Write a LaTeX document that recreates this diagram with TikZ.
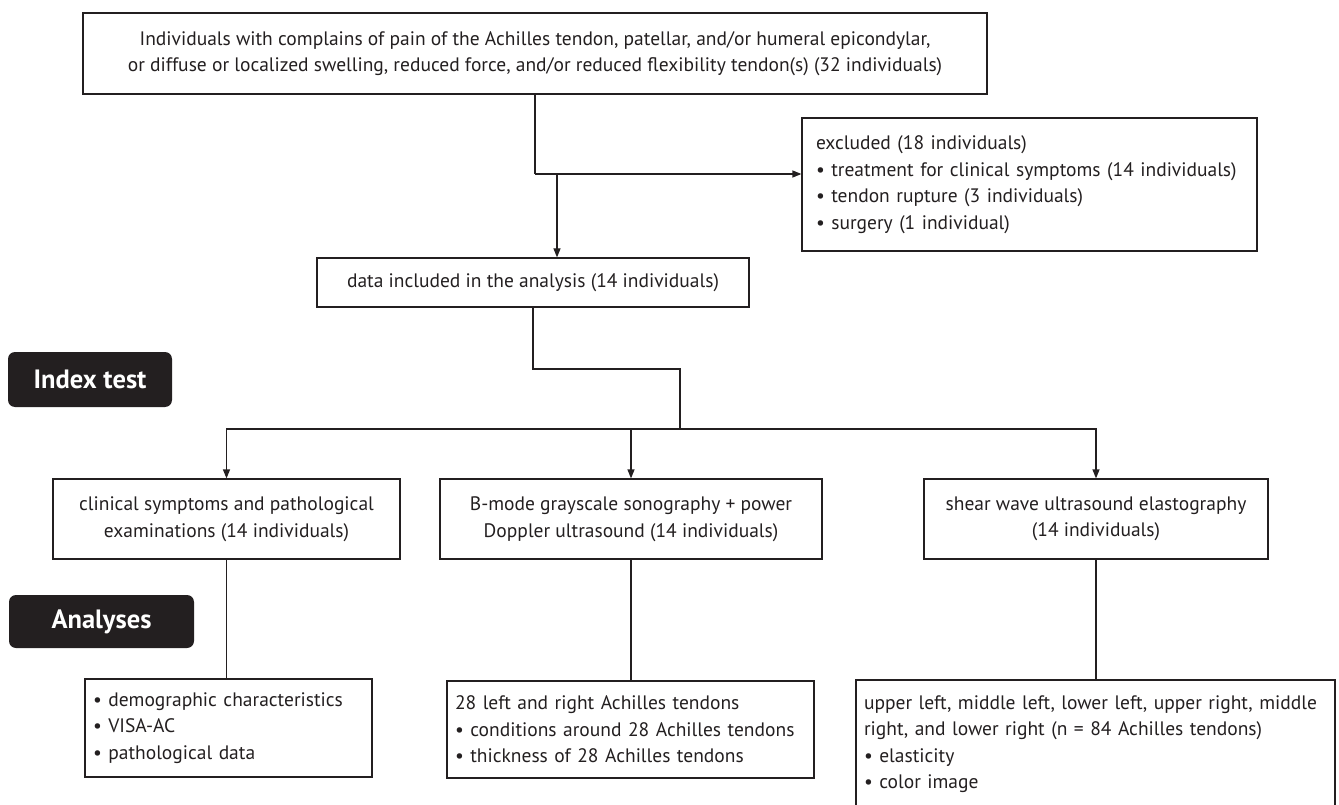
\documentclass[tikz,border=0pt]{standalone}
\usepackage{fontspec}
\setmainfont{PT Sans}
\usepackage{tikz}
\usetikzlibrary{arrows.meta,positioning,calc}
\definecolor{ink}{HTML}{231F20}

\begin{document}
\begin{tikzpicture}[x=1pt,y=-1pt,
    box/.style={draw=ink, line width=1.2pt, text=ink, inner sep=0pt, align=center,
        font=\fontsize{19.5}{26.5}\selectfont},
    listbox/.style={box, align=left, inner xsep=8pt},
    tag/.style={fill=ink, rounded corners=7pt, text=white, inner sep=0pt,
        font=\fontsize{26.5}{30}\selectfont\bfseries},
    link/.style={draw=ink, line width=1.2pt},
    arr/.style={link, -{Triangle[length=9pt,width=7pt]}}]
    \useasboundingbox (0,0) rectangle (1339,805);
    \clip (0,0) rectangle (1339,805);

    % Enrolment
    \node[box, minimum width=904pt, minimum height=81pt] (top) at (535,53.5)
        {Individuals with complains of pain of the Achilles tendon, patellar, and/or humeral epicondylar,\\
         or diffuse or localized swelling, reduced force, and/or reduced flexibility tendon(s) (32 individuals)};
    \node[listbox, inner xsep=14pt, text width=427pt, minimum height=133pt] (excl) at (1029.5,184.5)
        {excluded (18 individuals)\\
         • treatment for clinical symptoms (14 individuals)\\
         • tendon rupture (3 individuals)\\
         • surgery (1 individual)};
    \node[box, minimum width=432pt, minimum height=49pt] (data) at (533,282.5)
        {data included in the analysis (14 individuals)};

    % Index test
    \node[tag, minimum width=164pt, minimum height=55pt] (index) at (90,379.5) {Index test};
    \node[box, minimum width=347pt, minimum height=80pt] (clin) at (226.5,519)
        {clinical symptoms and pathological\\ examinations (14 individuals)};
    \node[box, minimum width=382pt, minimum height=80pt] (bmode) at (631,519)
        {B-mode grayscale sonography + power\\ Doppler ultrasound (14 individuals)};
    \node[box, minimum width=344pt, minimum height=80pt] (shear) at (1096,519)
        {shear wave ultrasound elastography\\ (14 individuals)};

    % Analyses
    \node[tag, minimum width=185pt, minimum height=53pt] (anal) at (101.5,621.5) {Analyses};
    \node[listbox, text width=271pt, minimum height=98pt] (demo) at (228.5,728)
        {• demographic characteristics\\ • VISA-AC\\ • pathological data};
    \node[listbox, text width=351pt, minimum height=97pt] (tend) at (630.5,729.5)
        {28 left and right Achilles tendons\\ • conditions around 28 Achilles tendons\\ • thickness of 28 Achilles tendons};
    \node[listbox, text width=463pt, minimum height=128pt] (elast) at (1095.5,744)
        {upper left, middle left, lower left, upper right, middle\\
         right, and lower right (n = 84 Achilles tendons)\\ • elasticity\\ • color image};

    % Connectors
    \coordinate (split) at (535,174);
    \coordinate (fork) at (557,174);
    \draw[link] (top.south) -- (split);
    \draw[arr] (split) -- (split -| excl.west);
    \draw[arr] (fork) -- (fork |- data.north);

    \coordinate (bend) at (680,369);
    \coordinate (hub) at (680,429);
    \draw[link] (data.south) |- (bend) -- (hub);
    \draw[arr] (hub) -| (clin.north);
    \draw[arr] (hub) -| (shear.north);
    \draw[arr] (bmode.north |- hub) -- (bmode.north);

    \draw[link] (clin.south) -- (clin.south |- demo.north);
    \draw[link] (bmode.south) -- (bmode.south |- tend.north);
    \draw[link] (shear.south) -- (shear.south |- elast.north);
\end{tikzpicture}
\end{document}
